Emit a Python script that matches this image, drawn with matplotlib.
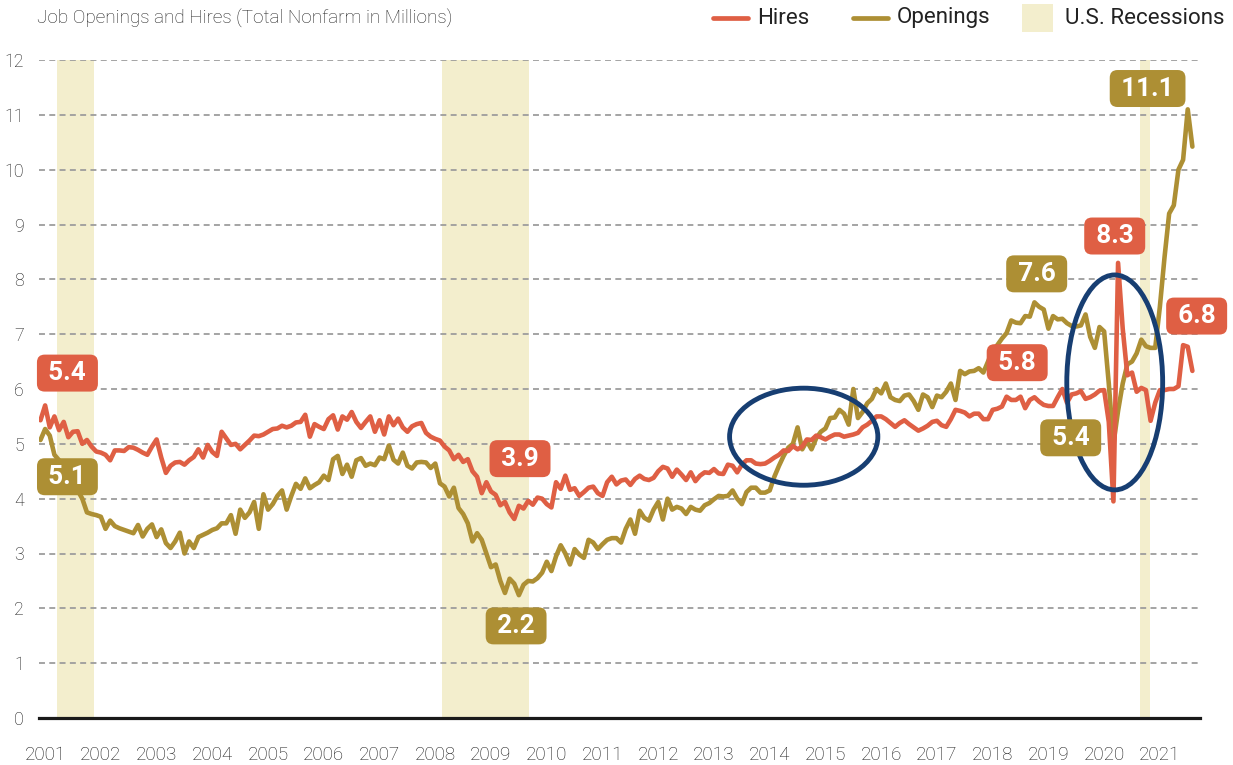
import numpy as np
import pandas as pd
import matplotlib
matplotlib.use('Agg')
import matplotlib.pyplot as plt
from matplotlib import font_manager
from matplotlib.patches import Ellipse, Rectangle
from matplotlib.lines import Line2D

# pick a narrow font if the system has one
names = {f.name for f in font_manager.fontManager.ttflist}
if 'Liberation Sans Narrow' in names:
    FONT, k = 'Liberation Sans Narrow', 1.0
else:
    FONT, k = 'Roboto', 0.85
plt.rcParams['font.family'] = [FONT, 'DejaVu Sans']

# monthly JOLTS data, Dec 2000 - Aug 2021 (millions)
hires = [
    5.43,                                                                # 2000 Dec
    5.70, 5.30, 5.50, 5.25, 5.40, 5.12, 5.22, 5.23, 5.00, 5.07, 4.95, 4.86,  # 2001
    4.84, 4.80, 4.70, 4.88, 4.88, 4.87, 4.94, 4.93, 4.89, 4.84, 4.80, 4.95,  # 2002
    5.08, 4.75, 4.47, 4.60, 4.66, 4.67, 4.62, 4.70, 4.76, 4.90, 4.75, 4.98,  # 2003
    4.85, 4.78, 5.22, 5.10, 4.98, 5.00, 4.90, 4.98, 5.06, 5.15, 5.14, 5.17,  # 2004
    5.22, 5.27, 5.28, 5.33, 5.30, 5.33, 5.39, 5.40, 5.53, 5.13, 5.36, 5.31,  # 2005
    5.27, 5.45, 5.52, 5.26, 5.50, 5.44, 5.58, 5.40, 5.29, 5.40, 5.50, 5.22,  # 2006
    5.43, 5.17, 5.50, 5.34, 5.46, 5.30, 5.22, 5.32, 5.36, 5.38, 5.20, 5.13,  # 2007
    5.09, 5.06, 4.95, 4.88, 4.72, 4.80, 4.67, 4.72, 4.50, 4.40, 4.10, 4.30,  # 2008
    4.13, 4.07, 3.88, 3.94, 3.75, 3.63, 3.87, 3.82, 3.96, 3.89, 4.02, 4.00,  # 2009
    3.90, 3.84, 4.30, 4.18, 4.42, 4.16, 4.19, 4.05, 4.12, 4.20, 4.22, 4.10,  # 2010
    4.05, 4.30, 4.40, 4.26, 4.33, 4.35, 4.25, 4.36, 4.42, 4.36, 4.34, 4.38,  # 2011
    4.50, 4.58, 4.55, 4.40, 4.53, 4.44, 4.34, 4.48, 4.32, 4.42, 4.48, 4.47,  # 2012
    4.54, 4.46, 4.45, 4.62, 4.60, 4.48, 4.62, 4.70, 4.70, 4.64, 4.63, 4.64,  # 2013
    4.69, 4.75, 4.80, 4.88, 4.87, 4.96, 4.90, 4.95, 5.08, 5.07, 5.15, 5.12,  # 2014
    5.08, 5.13, 5.17, 5.17, 5.13, 5.15, 5.17, 5.20, 5.30, 5.35, 5.42, 5.50,  # 2015
    5.50, 5.45, 5.38, 5.31, 5.38, 5.43, 5.36, 5.30, 5.24, 5.28, 5.33, 5.40,  # 2016
    5.42, 5.34, 5.31, 5.45, 5.62, 5.60, 5.57, 5.50, 5.55, 5.55, 5.45, 5.45,  # 2017
    5.62, 5.64, 5.68, 5.86, 5.80, 5.80, 5.86, 5.65, 5.80, 5.85, 5.77, 5.71,  # 2018
    5.69, 5.69, 5.85, 6.00, 5.75, 5.90, 5.92, 5.96, 5.82, 5.85, 5.90, 5.97,  # 2019
    5.98, 5.40, 3.95, 8.30, 7.10, 6.25, 6.30, 5.95, 6.02, 5.98, 5.42, 5.75,  # 2020
    5.98, 5.98, 6.00, 6.00, 6.05, 6.80, 6.77, 6.33,                          # 2021
]
openings = [
    5.07,                                                                # 2000 Dec
    5.27, 5.15, 4.80, 4.70, 4.55, 4.45, 4.30, 4.15, 4.00, 3.75, 3.72, 3.70,  # 2001
    3.67, 3.45, 3.60, 3.50, 3.46, 3.43, 3.40, 3.37, 3.52, 3.31, 3.45, 3.53,  # 2002
    3.30, 3.44, 3.19, 3.10, 3.22, 3.38, 3.00, 3.22, 3.10, 3.30, 3.34, 3.38,  # 2003
    3.43, 3.46, 3.55, 3.55, 3.70, 3.36, 3.80, 3.65, 3.75, 3.94, 3.45, 4.08,  # 2004
    3.80, 3.90, 4.05, 4.15, 3.80, 4.05, 4.27, 4.18, 4.37, 4.19, 4.25, 4.30,  # 2005
    4.42, 4.34, 4.72, 4.78, 4.45, 4.62, 4.40, 4.70, 4.74, 4.60, 4.64, 4.61,  # 2006
    4.75, 4.72, 4.97, 4.71, 4.64, 4.84, 4.60, 4.55, 4.66, 4.67, 4.66, 4.56,  # 2007
    4.64, 4.28, 4.22, 4.04, 4.20, 3.83, 3.72, 3.55, 3.22, 3.37, 3.25, 3.00,  # 2008
    2.75, 2.80, 2.50, 2.28, 2.54, 2.45, 2.24, 2.43, 2.50, 2.49, 2.55, 2.65,  # 2009
    2.85, 2.68, 2.95, 3.15, 3.00, 2.80, 3.08, 2.98, 2.92, 3.25, 3.20, 3.08,  # 2010
    3.17, 3.25, 3.28, 3.28, 3.20, 3.45, 3.62, 3.36, 3.78, 3.65, 3.60, 3.80,  # 2011
    3.94, 3.62, 4.00, 3.80, 3.85, 3.82, 3.72, 3.85, 3.80, 3.78, 3.88, 3.92,  # 2012
    3.99, 4.05, 4.04, 4.05, 4.15, 4.00, 3.90, 4.12, 4.20, 4.20, 4.11, 4.11,  # 2013
    4.15, 4.40, 4.60, 4.78, 4.93, 5.00, 5.30, 4.90, 5.05, 4.90, 5.10, 5.22,  # 2014
    5.28, 5.47, 5.48, 5.62, 5.55, 5.35, 6.00, 5.47, 5.58, 5.74, 5.82, 6.00,  # 2015
    5.92, 6.10, 5.85, 5.80, 5.78, 5.88, 5.90, 5.78, 5.62, 5.90, 5.85, 5.67,  # 2016
    5.88, 5.85, 5.95, 6.10, 5.80, 6.33, 6.27, 6.32, 6.33, 6.38, 6.30, 6.50,  # 2017
    6.70, 6.80, 6.92, 7.02, 7.25, 7.21, 7.20, 7.33, 7.32, 7.58, 7.50, 7.45,  # 2018
    7.10, 7.33, 7.27, 7.28, 7.20, 7.15, 7.14, 7.16, 7.36, 6.95, 6.75, 7.13,  # 2019
    7.05, 6.10, 5.00, 5.60, 6.10, 6.45, 6.50, 6.65, 6.90, 6.78, 6.75, 6.75,  # 2020
    7.50, 8.40, 9.20, 9.35, 10.00, 10.18, 11.10, 10.42,                      # 2021
]
months = pd.date_range('2000-12-01', periods=len(hires), freq='MS')
t = months.year + (months.month - 1) / 12

# recession shading as drawn in the source chart (decimal years)
rec_start = [2001.21, 2008.12, 2020.64]
rec_end = [2001.87, 2009.69, 2020.82]

years = list(range(2001, 2022))

RED = '#df5f44'
OLIVE = '#ad8f34'
NAVY = '#173e72'
SHADE = '#f3eecd'

W, H = 1233, 765
fig = plt.figure(figsize=(W / 100, H / 100), dpi=100)
ax = fig.add_axes([39 / W, 47 / H, (1200 - 39) / W, (718 - 60) / H])

for s, e in zip(rec_start, rec_end):
    ax.axvspan(s, e, color=SHADE, lw=0, zorder=0)

ax.plot(t, openings, color=OLIVE, lw=3.3, solid_joinstyle='round', solid_capstyle='round', zorder=3)
ax.plot(t, hires, color=RED, lw=3.3, solid_joinstyle='round', solid_capstyle='round', zorder=3)

ax.set_xlim(2000.89, 2021.72)
ax.set_ylim(0, 12)
ax.set_xticks(years)
ax.set_xticklabels([str(y) for y in years], fontweight='light')
ax.set_yticks(range(0, 13))
ax.set_yticklabels([str(v) for v in range(0, 13)], fontweight='light')
ax.tick_params(axis='x', length=0, pad=20, labelsize=16 * k, colors='#1a1a1a')
ax.tick_params(axis='y', length=0, pad=11, labelsize=15 * k, colors='#1a1a1a')
ax.grid(axis='y', color='#9d9d9d', lw=1.3, ls=(0, (3.3, 2.4)), zorder=1)
ax.set_axisbelow(True)
for side in ['top', 'right', 'left']:
    ax.spines[side].set_visible(False)
ax.spines['bottom'].set_linewidth(2.3)
ax.spines['bottom'].set_color('#1a1a1a')
ax.spines['bottom'].set_zorder(4)

# highlight ellipses
ax.add_patch(Ellipse((2014.61, 5.13), 2.66, 1.77, fill=False, ec=NAVY, lw=3.5, zorder=5))
ax.add_patch(Ellipse((2020.19, 6.12), 1.72, 3.92, fill=False, ec=NAVY, lw=3.5, zorder=5))

# value callouts
callouts = [
    ('5.4', RED, 2001.40, 6.29),
    ('5.1', OLIVE, 2001.40, 4.40),
    ('3.9', RED, 2009.52, 4.73),
    ('2.2', OLIVE, 2009.45, 1.68),
    ('7.6', OLIVE, 2018.79, 8.10),
    ('5.8', RED, 2018.44, 6.48),
    ('5.4', OLIVE, 2019.40, 5.11),
    ('8.3', RED, 2020.19, 8.79),
    ('11.1', OLIVE, 2020.78, 11.48),
    ('6.8', RED, 2021.66, 7.33),
]
for txt, c, cx, cy in callouts:
    ax.text(cx, cy, '\u2009' + txt + '\u2009', color='white', fontsize=22 * k, fontweight='bold',
            ha='center', va='center', zorder=7, clip_on=False,
            bbox=dict(boxstyle='round,pad=0.25,rounding_size=0.3', fc=c, ec='none'))

# title
fig.text(37 / W, 1 - 19 / H, 'Job Openings and Hires (Total Nonfarm in Millions)',
         fontsize=16 * k, fontweight='light', color='#222222', ha='left', va='center')

# legend drawn by hand to match the source layout
ly = 1 - 18 / H
fig.add_artist(Line2D([713 / W, 748 / W], [ly, ly], color=RED, lw=3.4, solid_capstyle='round'))
fig.text(757 / W, ly, 'Hires', fontsize=19 * k, color='#222222', va='center')
fig.add_artist(Line2D([853 / W, 888 / W], [ly, ly], color=OLIVE, lw=3.4, solid_capstyle='round'))
fig.text(897 / W, ly, 'Openings', fontsize=19 * k, color='#222222', va='center')
fig.add_artist(Rectangle((1022 / W, 1 - 32 / H), 31 / W, 28 / H, color=SHADE, lw=0))
fig.text(1065 / W, ly, 'U.S. Recessions', fontsize=19 * k, color='#222222', va='center')

fig.savefig('out.png', dpi=100)
